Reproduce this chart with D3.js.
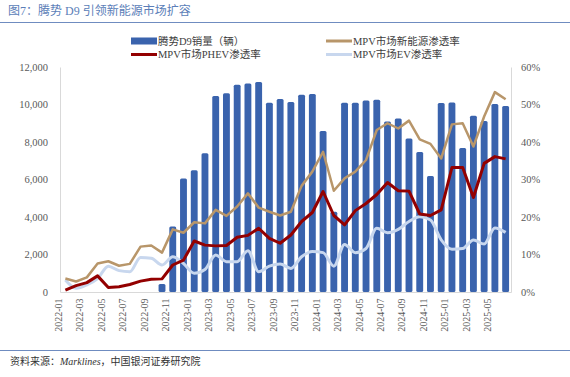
<!DOCTYPE html>
<html>
<head>
<meta charset="utf-8">
<script src="https://cdn.jsdelivr.net/npm/d3@7"></script>
<style>
  body { margin: 0; background: #fff; }
  svg { display: block; }
  text { font-family: "Liberation Serif", "Noto Sans CJK SC", serif; }
</style>
</head>
<body>
<svg id="drawing_region"></svg>
<script>
const months = [];
for (let y = 2022; y <= 2025; y++) {
    for (let m = 1; m <= 12; m++) {
        if (y === 2025 && m > 6) break;
        months.push(`${y}-${String(m).padStart(2, "0")}`);
    }
}

// 腾势D9销量（辆）
const sales = [
    0, 0, 0, 0, 0, 0, 0, 0, 0, 430, 3500, 6050,
    6500, 7400, 10450, 10600, 11050, 11120, 11200, 10100, 10300, 10130, 10520, 10560,
    8590, 4280, 10100, 10100, 10220, 10260, 9100, 9260, 8190, 7470, 6190, 10080,
    10110, 7680, 9400, 9120, 10030, 9920
];
// MPV市场新能源渗透率 (%)
const nevRate = [
    3.6, 2.8, 3.9, 7.6, 8.2, 7.0, 7.5, 12.1, 12.4, 10.5, 16.7, 15.8,
    18.6, 18.3, 21.9, 20.3, 22.8, 26.3, 22.5, 21.4, 20.4, 21.4, 28.3, 32.1,
    37.4, 27.0, 30.3, 32.1, 35.2, 43.2, 45.0, 43.6, 45.7, 40.7, 39.5, 35.6,
    44.7, 45.0, 38.8, 46.8, 53.3, 51.4
];
// MPV市场PHEV渗透率 (%)
const phevRate = [
    0.5, 1.7, 2.5, 4.3, 1.2, 1.4, 2.0, 2.9, 3.4, 3.5, 7.2, 8.5,
    13.6, 12.5, 12.3, 12.4, 14.6, 15.1, 17.0, 14.3, 13.0, 15.2, 18.8, 21.2,
    26.8, 20.4, 17.9, 21.7, 23.6, 26.0, 29.2, 27.0, 26.9, 20.8, 20.4, 21.9,
    33.2, 33.2, 25.2, 34.3, 36.1, 35.5
];
// MPV市场EV渗透率 (%)
const evRate = [
    3.2, 1.0, 1.9, 3.6, 6.9, 5.7, 5.4, 9.2, 9.0, 7.2, 9.4, 7.6,
    5.0, 6.0, 9.9, 8.1, 8.1, 11.0, 5.4, 6.9, 7.5, 6.3, 9.4, 10.8,
    10.5, 6.9, 12.7, 10.5, 11.6, 17.0, 15.8, 16.7, 18.8, 20.1, 19.2, 13.9,
    11.4, 11.6, 13.9, 12.8, 17.1, 15.9
];
const leftTicks = [0, 2000, 4000, 6000, 8000, 10000, 12000];
const rightTicks = [0, 10, 20, 30, 40, 50, 60];

const config = {
    width: 570,
    height: 377,
    margin: {top: 67, right: 59, bottom: 85, left: 60}
};

const svg = d3.select("#drawing_region")
    .attr("width", config.width)
    .attr("height", config.height);

const inner_width = config.width - config.margin.left - config.margin.right;
const inner_height = config.height - config.margin.top - config.margin.bottom;

// title
svg.append("text")
    .attr("x", 8)
    .attr("y", 15)
    .attr("font-size", 12)
    .attr("fill", "#5B7EB8")
    .text("图7：腾势 D9 引领新能源市场扩容");
svg.append("line")
    .attr("x1", 0).attr("x2", 570)
    .attr("y1", 22.5).attr("y2", 22.5)
    .attr("stroke", "#6F8CC0").attr("stroke-width", 1);

// footer
svg.append("line")
    .attr("x1", 0).attr("x2", 570)
    .attr("y1", 350.5).attr("y2", 350.5)
    .attr("stroke", "#6F8CC0").attr("stroke-width", 1);
const src = svg.append("text")
    .attr("x", 10)
    .attr("y", 365)
    .attr("font-size", 10)
    .attr("fill", "#333");
src.append("tspan").text("资料来源：");
src.append("tspan").attr("font-style", "italic").text("Marklines");
src.append("tspan").text("，中国银河证券研究院");

const chart = svg.append("g")
    .attr("transform", `translate(${config.margin.left},${config.margin.top})`);

const xscale = d3.scaleBand()
    .domain(months)
    .range([0, inner_width])
    .paddingInner(0.36)
    .paddingOuter(0.18);
const yscale = d3.scaleLinear().domain([0, 12000]).range([inner_height, 0]);
const rscale = d3.scaleLinear().domain([0, 60]).range([inner_height, 0]);

const cx = d => xscale(d) + xscale.bandwidth() / 2;

// axes
const xaxis = d3.axisBottom(xscale)
    .tickValues(months.filter((d, i) => i % 2 === 0))
    .tickSize(0)
    .tickPadding(4);
const yaxis = d3.axisLeft(yscale)
    .tickValues(leftTicks)
    .tickFormat(d3.format(","))
    .tickSize(0)
    .tickPadding(12);
const raxis = d3.axisRight(rscale)
    .tickValues(rightTicks)
    .tickFormat(d => d + "%")
    .tickSize(0)
    .tickPadding(10);

const xg = chart.append("g")
    .attr("transform", `translate(0,${inner_height})`)
    .call(xaxis);
xg.selectAll("text")
    .attr("transform", "rotate(-90)")
    .attr("text-anchor", "end")
    .attr("dx", "-0.45em")
    .attr("dy", "-0.35em")
    .attr("y", 0)
    .attr("x", -2);

const yg = chart.append("g").call(yaxis);
const rg = chart.append("g")
    .attr("transform", `translate(${inner_width},0)`)
    .call(raxis);

[xg, yg, rg].forEach(g => {
    g.select(".domain").attr("stroke", "#D9D9D9");
    g.selectAll("text")
        .attr("fill", "#595959")
        .attr("font-size", g === xg ? 10 : 10.5)
        .attr("font-family", "Liberation Serif, serif");
});

// bars
chart.selectAll("rect.bar")
    .data(months.map((m, i) => ({m, v: sales[i]})).filter(d => d.v > 0))
    .enter()
    .append("rect")
    .attr("class", "bar")
    .attr("x", d => xscale(d.m))
    .attr("y", d => yscale(d.v))
    .attr("width", xscale.bandwidth())
    .attr("height", d => inner_height - yscale(d.v))
    .attr("rx", 1.5)
    .attr("fill", "#3A63AD");

// lines
const series = [
    {values: evRate, color: "#C8D7EE", width: 3, curve: d3.curveMonotoneX},
    {values: nevRate, color: "#B8966A", width: 2.5, curve: d3.curveLinear},
    {values: phevRate, color: "#930000", width: 3, curve: d3.curveLinear}
];
series.forEach(s => {
    const line = d3.line()
        .x((d, i) => cx(months[i]))
        .y(d => rscale(d))
        .curve(s.curve);
    chart.append("path")
        .datum(s.values)
        .attr("d", line)
        .attr("fill", "none")
        .attr("stroke", s.color)
        .attr("stroke-width", s.width)
        .attr("stroke-linejoin", "round");
});

// legend
const legend = svg.append("g");
const items = [
    {label: "腾势D9销量（辆）", type: "rect", color: "#3A63AD", x: 131, y: 41},
    {label: "MPV市场新能源渗透率", type: "line", color: "#B8966A", x: 326, y: 41},
    {label: "MPV市场PHEV渗透率", type: "line", color: "#930000", x: 131, y: 54.5},
    {label: "MPV市场EV渗透率", type: "line", color: "#C8D7EE", x: 326, y: 54.5}
];
items.forEach(it => {
    if (it.type === "rect") {
        legend.append("rect")
            .attr("x", it.x).attr("y", it.y - 3.5)
            .attr("width", 26).attr("height", 7)
            .attr("fill", it.color);
    } else {
        legend.append("line")
            .attr("x1", it.x).attr("x2", it.x + 26)
            .attr("y1", it.y).attr("y2", it.y)
            .attr("stroke", it.color).attr("stroke-width", 3);
    }
    legend.append("text")
        .attr("x", it.x + 27)
        .attr("y", it.y)
        .attr("dy", "0.35em")
        .attr("font-size", 10.5)
        .attr("fill", "#404040")
        .text(it.label);
});
</script>
</body>
</html>
